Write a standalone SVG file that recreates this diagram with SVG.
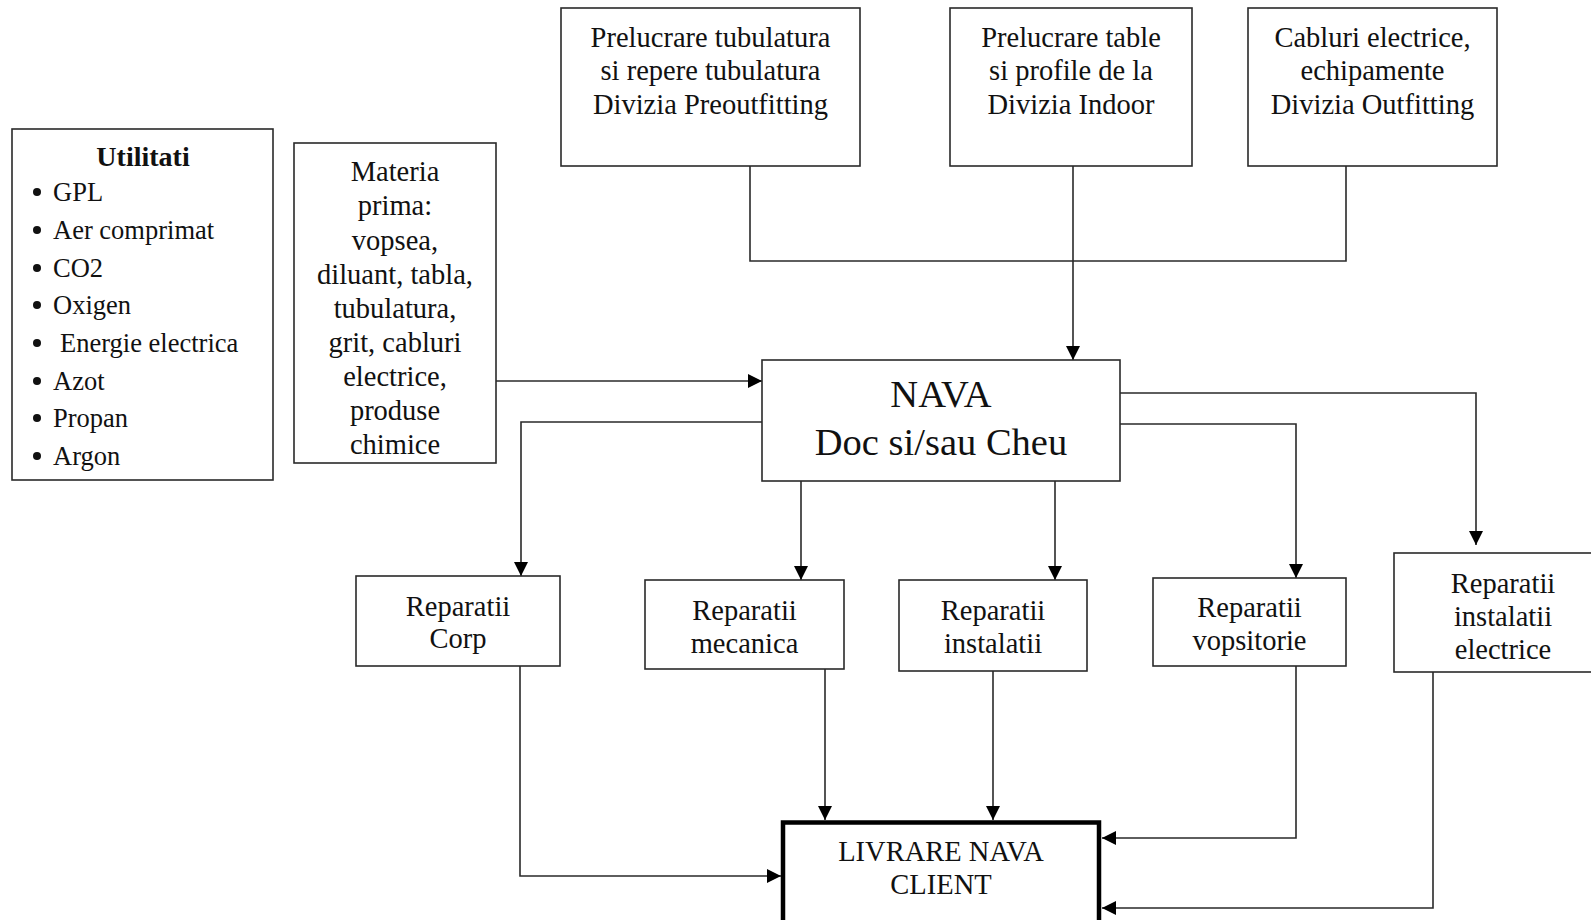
<svg xmlns="http://www.w3.org/2000/svg" width="1591" height="920" viewBox="0 0 1591 920">
  <style>
    .box { fill: #ffffff; stroke: #2a2a2a; stroke-width: 1.6; }
    .thick { fill: #ffffff; stroke: #000000; stroke-width: 4.5; }
    .t { font-family: "Liberation Serif", "Times New Roman", serif; font-size: 28.5px; fill: #111111; text-anchor: middle; }
    .big { font-size: 38.5px; }
    .li { font-family: "Liberation Serif", "Times New Roman", serif; font-size: 26.5px; fill: #111111; }
    .ttl { font-family: "Liberation Serif", "Times New Roman", serif; font-size: 28px; font-weight: bold; fill: #111111; text-anchor: middle; }
    .wire { fill: none; stroke: #2a2a2a; stroke-width: 1.6; }
    .arrow { fill: none; stroke: #2a2a2a; stroke-width: 1.6; marker-end: url(#head); }
  </style>
  <defs>
    <marker id="head" markerUnits="userSpaceOnUse" markerWidth="14" markerHeight="14" refX="14" refY="7" orient="auto">
      <path d="M0,0 L14,7 L0,14 Z" fill="#000000"/>
    </marker>
  </defs>

  <rect width="1591" height="920" fill="#ffffff"/>

  <!-- connectors -->
  <g id="connectors">
    <polyline class="wire" points="750,166 750,261 1346,261 1346,166"/>
    <line class="arrow" x1="1073" y1="166" x2="1073" y2="360"/>
    <line class="arrow" x1="496" y1="381" x2="762" y2="381"/>
    <polyline class="arrow" points="762,422 521,422 521,576"/>
    <line class="arrow" x1="801" y1="481" x2="801" y2="580"/>
    <line class="arrow" x1="1055" y1="481" x2="1055" y2="580"/>
    <polyline class="arrow" points="1120,424 1296,424 1296,578"/>
    <polyline class="arrow" points="1120,393 1476,393 1476,545"/>
    <polyline class="arrow" points="520,666 520,876 781,876"/>
    <line class="arrow" x1="825" y1="669" x2="825" y2="820"/>
    <line class="arrow" x1="993" y1="671" x2="993" y2="820"/>
    <polyline class="arrow" points="1296,666 1296,838 1102,838"/>
    <polyline class="arrow" points="1433,672 1433,908 1102,908"/>
  </g>

  <!-- utilities list -->
  <g id="utilitati">
    <rect class="box" x="12" y="129" width="261" height="351"/>
    <text class="ttl" x="143" y="166">Utilitati</text>
    <g fill="#111111">
      <circle cx="37" cy="192" r="4"/>
      <circle cx="37" cy="230" r="4"/>
      <circle cx="37" cy="268" r="4"/>
      <circle cx="37" cy="305" r="4"/>
      <circle cx="37" cy="343" r="4"/>
      <circle cx="37" cy="381" r="4"/>
      <circle cx="37" cy="418" r="4"/>
      <circle cx="37" cy="456" r="4"/>
    </g>
    <text class="li" x="53" y="201">GPL</text>
    <text class="li" x="53" y="239">Aer comprimat</text>
    <text class="li" x="53" y="277">CO2</text>
    <text class="li" x="53" y="314">Oxigen</text>
    <text class="li" x="60" y="352">Energie electrica</text>
    <text class="li" x="53" y="390">Azot</text>
    <text class="li" x="53" y="427">Propan</text>
    <text class="li" x="53" y="465">Argon</text>
  </g>

  <!-- raw materials -->
  <g id="materia">
    <rect class="box" x="294" y="143" width="202" height="320"/>
    <text class="t" x="395" y="181">Materia</text>
    <text class="t" x="395" y="215">prima:</text>
    <text class="t" x="395" y="250">vopsea,</text>
    <text class="t" x="395" y="284">diluant, tabla,</text>
    <text class="t" x="395" y="318">tubulatura,</text>
    <text class="t" x="395" y="352">grit, cabluri</text>
    <text class="t" x="395" y="386">electrice,</text>
    <text class="t" x="395" y="420">produse</text>
    <text class="t" x="395" y="454">chimice</text>
  </g>

  <!-- supplier divisions -->
  <g id="preoutfitting">
    <rect class="box" x="561" y="8" width="299" height="158"/>
    <text class="t" x="710.5" y="46.5">Prelucrare tubulatura</text>
    <text class="t" x="710.5" y="80">si repere tubulatura</text>
    <text class="t" x="710.5" y="113.5">Divizia Preoutfitting</text>
  </g>
  <g id="indoor">
    <rect class="box" x="950" y="8" width="242" height="158"/>
    <text class="t" x="1071" y="46.5">Prelucrare table</text>
    <text class="t" x="1071" y="80">si profile de la</text>
    <text class="t" x="1071" y="113.5">Divizia Indoor</text>
  </g>
  <g id="outfitting">
    <rect class="box" x="1248" y="8" width="249" height="158"/>
    <text class="t" x="1372.5" y="46.5">Cabluri electrice,</text>
    <text class="t" x="1372.5" y="80">echipamente</text>
    <text class="t" x="1372.5" y="113.5">Divizia Outfitting</text>
  </g>

  <!-- ship at dock / quay -->
  <g id="nava">
    <rect class="box" x="762" y="360" width="358" height="121"/>
    <text class="t big" x="941" y="407">NAVA</text>
    <text class="t big" x="941" y="455">Doc si/sau Cheu</text>
  </g>

  <!-- repair workshops -->
  <g id="rep-corp">
    <rect class="box" x="356" y="576" width="204" height="90"/>
    <text class="t" x="458" y="616">Reparatii</text>
    <text class="t" x="458" y="648">Corp</text>
  </g>
  <g id="rep-mecanica">
    <rect class="box" x="645" y="580" width="199" height="89"/>
    <text class="t" x="744.5" y="620">Reparatii</text>
    <text class="t" x="744.5" y="653">mecanica</text>
  </g>
  <g id="rep-instalatii">
    <rect class="box" x="899" y="580" width="188" height="91"/>
    <text class="t" x="993" y="620">Reparatii</text>
    <text class="t" x="993" y="653">instalatii</text>
  </g>
  <g id="rep-vopsitorie">
    <rect class="box" x="1153" y="578" width="193" height="88"/>
    <text class="t" x="1249.5" y="617">Reparatii</text>
    <text class="t" x="1249.5" y="650">vopsitorie</text>
  </g>
  <g id="rep-electrice">
    <rect class="box" x="1394" y="553" width="210" height="119"/>
    <text class="t" x="1503" y="593">Reparatii</text>
    <text class="t" x="1503" y="626">instalatii</text>
    <text class="t" x="1503" y="659">electrice</text>
  </g>

  <!-- delivery -->
  <g id="livrare">
    <rect class="thick" x="783" y="822.5" width="316" height="110"/>
    <text class="t" x="941" y="861">LIVRARE NAVA</text>
    <text class="t" x="941" y="894">CLIENT</text>
  </g>
</svg>
